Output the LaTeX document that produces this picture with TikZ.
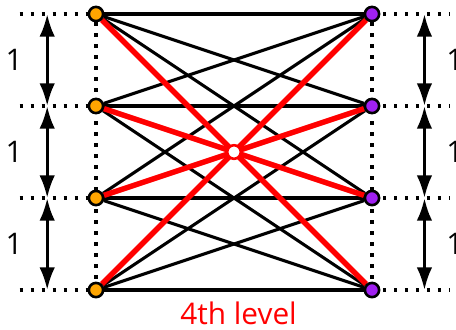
\documentclass[tikz,border=0pt]{standalone}
\usepackage{fontspec}
\setmainfont{Open Sans}
\usepackage{xcolor}
\usetikzlibrary{arrows.meta,backgrounds}

\definecolor{lorange}{RGB}{255,165,0}
\definecolor{rpurple}{RGB}{160,32,240}

\begin{document}
\begin{tikzpicture}[font=\fontsize{9.2}{11}\selectfont,
  edge/.style={line width=0.95pt},
  redge/.style={red,line width=1.7pt},
  guide/.style={line width=1pt,dash pattern=on 1pt off 2.4pt},
  dist/.style={{Latex[length=7pt,width=4.8pt]}-{Latex[length=7pt,width=4.8pt]},line width=1pt},
  pt/.style={circle,draw,line width=0.8pt,inner sep=0pt,minimum size=4.4pt}]
  \useasboundingbox (-1.043,-0.424) rectangle (3.913,3.152);

  % nodes of the two columns and the centre
  \foreach \i in {0,...,3} {
    \node[pt,fill=lorange] (L\i) at (0,\i) {};
    \node[pt,fill=rpurple] (R\i) at (3,\i) {};
    \coordinate (gl\i) at (-0.83,\i);
    \coordinate (gr\i) at (3.85,\i);
    \coordinate (al\i) at (-0.53,\i);
    \coordinate (ar\i) at (3.57,\i);
  }
  \node[pt,fill=white,draw=red,minimum size=4.2pt] (C) at (1.5,1.5) {};

  \begin{scope}[on background layer]
    % guides
    \foreach \i in {0,...,3} {
      \draw[guide] (gl\i) -- (L\i.center);
      \draw[guide] (R\i.center) -- (gr\i);
    }
    \draw[guide] (L3) -- (L0);
    \draw[guide] (R3) -- (R0);
    % all edges
    \foreach \i in {0,...,3}
      \foreach \j in {0,...,3}
        \draw[edge] (L\i) -- (R\j);
    % edges through the centre
    \foreach \i/\j in {0/3,1/2,2/1,3/0}
      \draw[redge] (L\i) -- (R\j);
  \end{scope}

  % unit distances
  \foreach \i/\j in {0/1,1/2,2/3} {
    \draw[dist] (al\i) -- (al\j);
    \draw[dist] (ar\i) -- (ar\j);
    \node (dl\i) at (-0.89,\i+0.5) {1};
    \node (dr\i) at (3.9,\i+0.5) {1};
  }

  \node[red] (lvl) at (1.55,-0.25) {4th level};
\end{tikzpicture}
\end{document}
